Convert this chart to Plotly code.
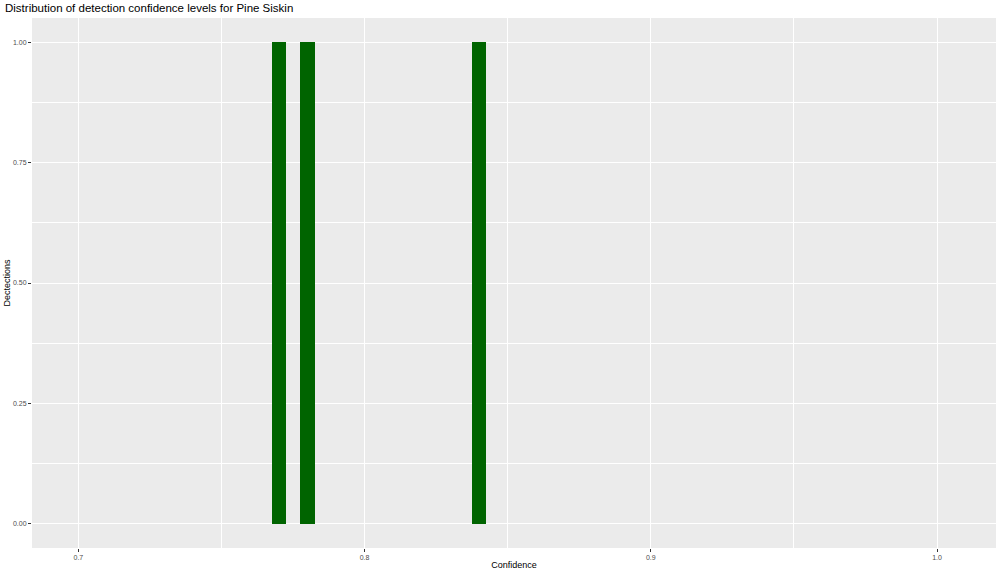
import plotly.graph_objects as go

confidence = [0.77, 0.78, 0.84]
detections = [1, 1, 1]
bar_width = 0.005
x_ticks = [0.7, 0.8, 0.9, 1.0]
x_ticklabels = ["0.7", "0.8", "0.9", "1.0"]
y_ticks = [0.0, 0.25, 0.5, 0.75, 1.0]
y_ticklabels = ["0.00", "0.25", "0.50", "0.75", "1.00"]

fig = go.Figure()
fig.add_trace(go.Bar(x=confidence, y=detections, width=bar_width,
                     marker=dict(color="#006400", line=dict(width=0))))

fig.update_layout(
    width=1000, height=573,
    paper_bgcolor="white", plot_bgcolor="#EBEBEB",
    margin=dict(l=32, r=4, t=18, b=25, autoexpand=False),
    font=dict(family="Liberation Sans, Arial, sans-serif", color="black"),
    title=dict(text="Distribution of detection confidence levels for Pine Siskin",
               x=0.005, xanchor="left", xref="container", yref="container",
               y=1 - 8 / 573, yanchor="middle", automargin=False,
               font=dict(size=11.5, color="black")),
    showlegend=False,
    bargap=0,
)
fig.update_xaxes(
    range=[0.6838, 1.0206], tickvals=x_ticks, ticktext=x_ticklabels,
    showgrid=True, gridcolor="white", gridwidth=1.1,
    minor=dict(dtick=0.05, tick0=0.65, showgrid=True, gridcolor="white", gridwidth=0.5),
    ticks="outside", ticklen=3, tickcolor="#333333", tickwidth=1,
    tickfont=dict(size=7, color="#4D4D4D"), zeroline=False, showline=False,
    automargin=False,
    title=dict(text="Confidence", font=dict(size=9, color="black"), standoff=1),
)
fig.update_yaxes(
    range=[-0.05, 1.05], tickvals=y_ticks, ticktext=y_ticklabels,
    showgrid=True, gridcolor="white", gridwidth=1.1,
    minor=dict(dtick=0.125, tick0=0.125, showgrid=True, gridcolor="white", gridwidth=0.5),
    ticks="outside", ticklen=3, tickcolor="#333333", tickwidth=1,
    tickfont=dict(size=7, color="#4D4D4D"), zeroline=False, showline=False,
    automargin=False,
    title=dict(text="Dectections", font=dict(size=9, color="black"), standoff=0),
)

fig.write_html("out.html", config={"displayModeBar": False},
               post_script="document.body.style.margin='0';document.body.style.overflow='hidden';")
